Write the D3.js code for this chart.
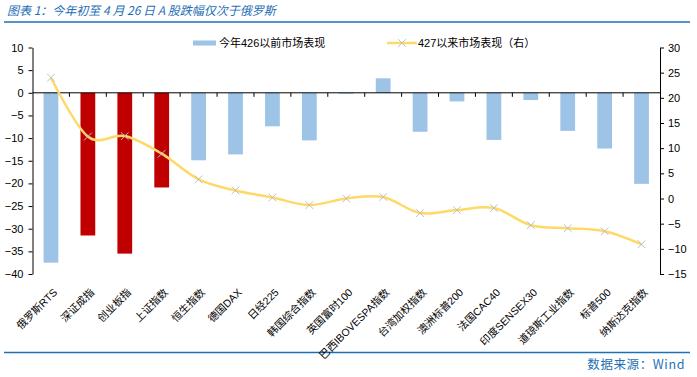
<!DOCTYPE html>
<html>
<head>
<meta charset="utf-8">
<script src="https://cdn.jsdelivr.net/npm/d3@7"></script>
<style>
  body { margin: 0; background: #fff; }
  svg { display: block; }
  .tick text { font-family: "Liberation Sans", Arial, sans-serif; font-size: 11px; fill: #000; }
</style>
</head>
<body>
<div id="chart"></div>
<script>

const categories = ["俄罗斯RTS", "深证成指", "创业板指", "上证指数", "恒生指数", "德国DAX", "日经225",
  "韩国综合指数", "英国富时100", "巴西IBOVESPA指数", "台湾加权指数", "澳洲标普200", "法国CAC40",
  "印度SENSEX30", "道琼斯工业指数", "标普500", "纳斯达克指数"];

// 今年426以前市场表现 (left axis)
const before426 = [-37.5, -31.5, -35.5, -20.9, -14.9, -13.6, -7.4, -10.5, -0.2, 3.2, -8.6, -1.9, -10.4, -1.6, -8.4, -12.3, -20.1];

// 427以来市场表现 (right axis)
const since427 = [24.0, 12.3, 12.4, 8.9, 3.8, 1.6, 0.2, -1.3, 0.0, 0.3, -2.9, -2.3, -1.9, -5.3, -5.9, -6.5, -9.1];

// A股 bars drawn in red
const highlight = ["深证成指", "创业板指", "上证指数"];

const leftTicks = [10, 5, 0, -5, -10, -15, -20, -25, -30, -35, -40];
const rightTicks = [30, 25, 20, 15, 10, 5, 0, -5, -10, -15];

const title = "图表 1：今年初至 4 月 26 日 A 股跌幅仅次于俄罗斯";
const source = "数据来源：Wind";
const seriesNames = ["今年426以前市场表现", "427以来市场表现（右）"];

const W = 697, H = 377;
const margin = { top: 47.5, right: 37, bottom: 103, left: 32.5 };
const width = W - margin.left - margin.right;
const height = H - margin.top - margin.bottom;

const blue = "#9DC3E6", red = "#C00000", gold = "#FFD966", frame = "#1F6FB5";

const svg = d3.select("#chart").append("svg")
  .attr("width", W)
  .attr("height", H);

// title + rules
svg.append("text")
  .attr("x", 7).attr("y", 15)
  .attr("fill", frame)
  .style("font-family", "'Noto Sans CJK SC', sans-serif")
  .style("font-size", "12px")
  .style("font-style", "italic")
  .text(title);

svg.append("line").attr("x1", 4).attr("x2", 690).attr("y1", 22).attr("y2", 22)
  .attr("stroke", frame).attr("stroke-width", 1.5);
svg.append("line").attr("x1", 4).attr("x2", 690).attr("y1", 352.5).attr("y2", 352.5)
  .attr("stroke", frame).attr("stroke-width", 1.5);

svg.append("text")
  .attr("x", 685).attr("y", 369)
  .attr("text-anchor", "end")
  .attr("fill", frame)
  .style("font-family", "'Noto Sans CJK SC', sans-serif")
  .style("font-size", "12.5px")
  .style("letter-spacing", "0.6px")
  .text(source);

const g = svg.append("g")
  .attr("transform", "translate(" + margin.left + "," + margin.top + ")");

const x = d3.scaleBand().domain(categories).range([0, width]).paddingInner(0.6).paddingOuter(0.3);
const yL = d3.scaleLinear().domain([-40, 10]).range([height, 0]);
const yR = d3.scaleLinear().domain([-15, 30]).range([height, 0]);

// bars
g.selectAll("rect.bar")
  .data(categories)
  .enter().append("rect")
  .attr("class", "bar")
  .attr("x", d => x(d))
  .attr("width", x.bandwidth())
  .attr("y", (d, i) => yL(Math.max(0, before426[i])))
  .attr("height", (d, i) => Math.abs(yL(before426[i]) - yL(0)))
  .attr("fill", d => highlight.includes(d) ? red : blue);

// left axis
g.append("g")
  .attr("class", "y axis")
  .call(d3.axisLeft(yL).tickValues(leftTicks).tickSize(4).tickSizeOuter(0).tickPadding(5))
  .call(a => a.select(".domain").attr("stroke", "#000"));

// right axis
g.append("g")
  .attr("class", "y2 axis")
  .attr("transform", "translate(" + width + ",0)")
  .call(d3.axisRight(yR).tickValues(rightTicks).tickSize(4).tickSizeOuter(0).tickPadding(4))
  .call(a => a.select(".domain").attr("stroke", "#000"));

// category axis on zero line, ticks at band boundaries
const step = x.step();
const xa = g.append("g").attr("transform", "translate(0," + yL(0) + ")");
xa.append("line").attr("x1", 0).attr("x2", width).attr("stroke", "#000");
xa.selectAll("line.tk")
  .data(d3.range(1, categories.length))
  .enter().append("line")
  .attr("class", "tk")
  .attr("x1", i => i * step).attr("x2", i => i * step)
  .attr("y1", 0).attr("y2", 4)
  .attr("stroke", "#000");

// rotated category labels
g.selectAll("text.cat")
  .data(categories)
  .enter().append("text")
  .attr("class", "cat")
  .attr("transform", d => "translate(" + (x(d) + x.bandwidth() / 2 + 7) + "," + (height + 19) + ") rotate(-45)")
  .attr("text-anchor", "end")
  .style("font-family", "'Liberation Sans', 'Noto Sans CJK SC', sans-serif")
  .style("font-size", "10.5px")
  .attr("fill", "#000")
  .text(d => d);

// line series
const pts = categories.map((c, i) => [x(c) + x.bandwidth() / 2, yR(since427[i])]);

g.append("path")
  .datum(pts)
  .attr("fill", "none")
  .attr("stroke", gold)
  .attr("stroke-width", 2.5)
  .attr("d", d3.line().curve(d3.curveCatmullRom.alpha(0)));

const cross = d3.symbol().type(d3.symbolX).size(40);
g.selectAll("path.mk")
  .data(pts)
  .enter().append("path")
  .attr("class", "mk")
  .attr("transform", d => "translate(" + d[0] + "," + d[1] + ")")
  .attr("d", cross)
  .attr("fill", "none")
  .attr("stroke", "#BFBFBF")
  .attr("stroke-width", 1);

// legend
const lg = svg.append("g").style("font-family", "'Liberation Sans', 'Noto Sans CJK SC', sans-serif").style("font-size", "11px");
lg.append("rect").attr("x", 193).attr("y", 40.5).attr("width", 23).attr("height", 5).attr("fill", blue);
lg.append("text").attr("x", 219).attr("y", 47).text(seriesNames[0]);
lg.append("line").attr("x1", 387).attr("x2", 417).attr("y1", 43).attr("y2", 43)
  .attr("stroke", gold).attr("stroke-width", 2.5);
lg.append("path").attr("transform", "translate(402,43)").attr("d", cross)
  .attr("fill", "none").attr("stroke", "#BFBFBF");
lg.append("text").attr("x", 418).attr("y", 47).text(seriesNames[1]);

</script>
</body>
</html>
